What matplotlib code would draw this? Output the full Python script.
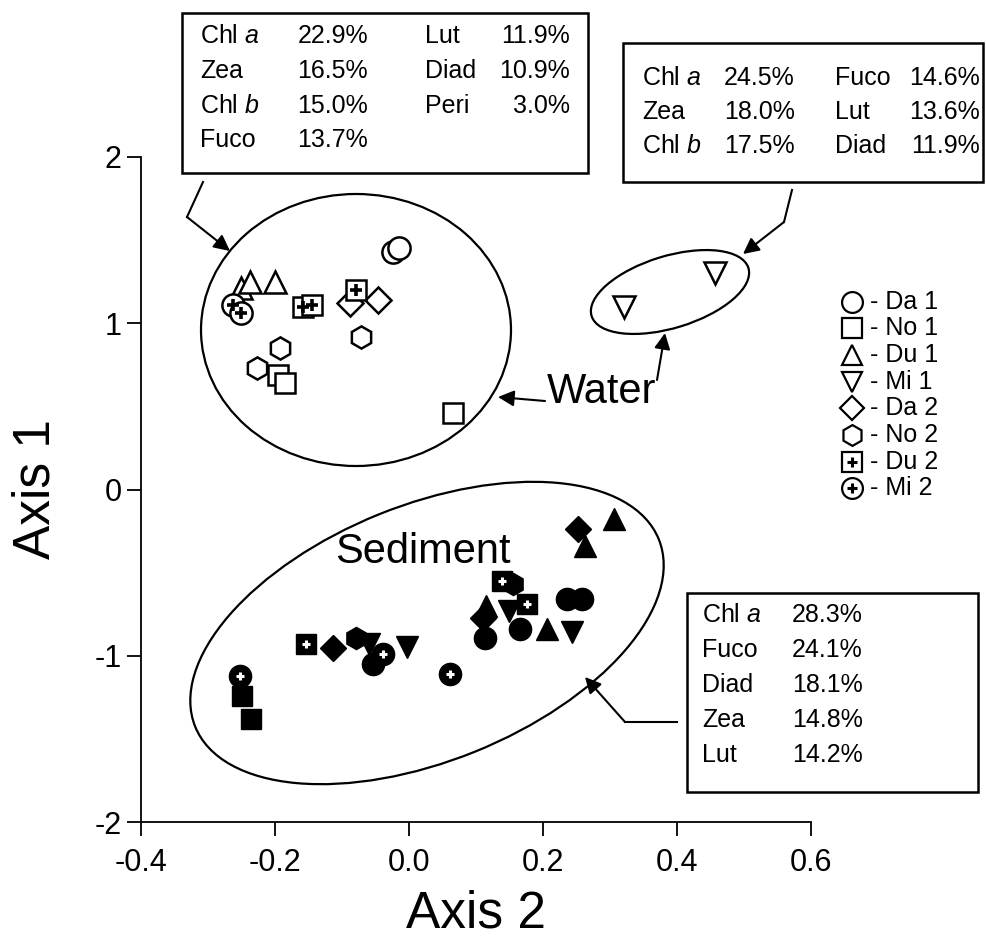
import numpy as np
import matplotlib
matplotlib.use("Agg")
from matplotlib import pyplot as plt
from matplotlib.patches import Ellipse, Rectangle, FancyArrowPatch
from matplotlib.lines import Line2D

plt.rcParams['font.family'] = ['Liberation Sans', 'DejaVu Sans']
plt.rcParams['mathtext.fontset'] = 'custom'
plt.rcParams['mathtext.rm'] = 'Liberation Sans'
plt.rcParams['mathtext.it'] = 'Liberation Sans:italic'

W, H = 987, 943

# groups (legend order)
groups = ['Da 1', 'No 1', 'Du 1', 'Mi 1', 'Da 2', 'No 2', 'Du 2', 'Mi 2']
markers = ['o', 's', '^', 'v', 'D', 'h', 's', 'o']
msizes = [16, 15, 16, 16, 13, 16, 15, 16]
with_plus = [False, False, False, False, False, False, True, True]

# water samples (open symbols)
water_x = [[-0.024, -0.015],
           [-0.195, -0.185, 0.066],
           [-0.250, -0.238, -0.200],
           [0.321, 0.457],
           [-0.088, -0.046],
           [-0.193, -0.227, -0.072],
           [-0.158, -0.145, -0.079],
           [-0.262, -0.250]]
water_y = [[1.43, 1.45],
           [0.69, 0.64, 0.46],
           [1.21, 1.25, 1.25],
           [1.10, 1.30],
           [1.12, 1.14],
           [0.85, 0.73, 0.92],
           [1.10, 1.11, 1.20],
           [1.11, 1.06]]

# sediment samples (filled symbols)
sed_x = [[-0.054, 0.113, 0.166, 0.236, 0.258],
         [-0.249, -0.236],
         [0.206, 0.115, 0.263, 0.306],
         [-0.060, -0.003, 0.243, 0.150],
         [-0.113, 0.110, 0.252],
         [-0.079, 0.155],
         [-0.154, 0.139, 0.176],
         [-0.252, 0.061, -0.039]]
sed_y = [[-1.05, -0.895, -0.84, -0.66, -0.66],
         [-1.24, -1.38],
         [-0.84, -0.70, -0.34, -0.175],
         [-0.93, -0.95, -0.86, -0.73],
         [-0.955, -0.775, -0.235],
         [-0.895, -0.57],
         [-0.93, -0.55, -0.69],
         [-1.12, -1.11, -0.99]]

xticks = [-0.4, -0.2, 0.0, 0.2, 0.4, 0.6]
xticklabels = ['-0.4', '-0.2', '0.0', '0.2', '0.4', '0.6']
yticks = [-2, -1, 0, 1, 2]
yticklabels = ['-2', '-1', '0', '1', '2']

# pigment tables
box1_names = ['Chl $a$', 'Zea', 'Chl $b$', 'Fuco', 'Lut', 'Diad', 'Peri']
box1_vals = ['22.9%', '16.5%', '15.0%', '13.7%', '11.9%', '10.9%', '3.0%']
box2_names = ['Chl $a$', 'Zea', 'Chl $b$', 'Fuco', 'Lut', 'Diad']
box2_vals = ['24.5%', '18.0%', '17.5%', '14.6%', '13.6%', '11.9%']
box3_names = ['Chl $a$', 'Fuco', 'Diad', 'Zea', 'Lut']
box3_vals = ['28.3%', '24.1%', '18.1%', '14.8%', '14.2%']


def fx(x):
    return x / W


def fy(y):
    return 1 - y / H


fig = plt.figure(figsize=(W / 100, H / 100), dpi=100)
ax = fig.add_axes([141 / W, (H - 822) / H, 670 / W, 665 / H])
ax.set_xlim(-0.4, 0.6)
ax.set_ylim(-2, 2)
for s in ['top', 'right']:
    ax.spines[s].set_visible(False)
for s in ['left', 'bottom']:
    ax.spines[s].set_linewidth(1.3)
ax.set_xticks(xticks)
ax.set_xticklabels(xticklabels)
ax.set_yticks(yticks)
ax.set_yticklabels(yticklabels)
ax.tick_params(direction='out', length=10, width=1.3, labelsize=22)
ax.tick_params(axis='x', pad=9)
ax.tick_params(axis='y', pad=4)
ax.set_xlabel('Axis 2', fontsize=37, labelpad=8)
ax.set_ylabel('Axis 1', fontsize=37, labelpad=24)

for i in range(len(groups)):
    ax.plot(water_x[i], water_y[i], ls='none', marker=markers[i], ms=msizes[i],
            mfc='white', mec='black', mew=1.8, zorder=3)
    ax.plot(sed_x[i], sed_y[i], ls='none', marker=markers[i], ms=msizes[i],
            mfc='black', mec='black', mew=1.0, zorder=3)
    if with_plus[i]:
        ax.plot(water_x[i], water_y[i], ls='none', marker='+', ms=8,
                mec='black', mew=2.6, zorder=4)
        ax.plot(sed_x[i], sed_y[i], ls='none', marker='+', ms=6,
                mec='white', mew=2.2, zorder=4)

# group ellipses (pixel geometry)
inch = fig.dpi_scale_trans
for cx, cy, a, b, ang in [(356, 330, 155, 136, 0), (670, 292, 82, 36, 17),
                          (427, 633, 250, 128, 22)]:
    fig.add_artist(Ellipse((cx / 100, (H - cy) / 100), 2 * a / 100, 2 * b / 100,
                           angle=ang, transform=inch, fill=False, lw=1.6,
                           ec='black'))

fig.text(fx(602), fy(403), 'Water', fontsize=30, ha='center', va='baseline')
fig.text(fx(423), fy(563), 'Sediment', fontsize=30, ha='center', va='baseline')


def arrow(p0, p1):
    fig.add_artist(FancyArrowPatch((fx(p0[0]), fy(p0[1])), (fx(p1[0]), fy(p1[1])),
                                   transform=fig.transFigure, arrowstyle='-|>',
                                   mutation_scale=24, lw=1.5, color='black',
                                   shrinkA=0, shrinkB=0))


def line(p0, p1):
    fig.add_artist(Line2D([fx(p0[0]), fx(p1[0])], [fy(p0[1]), fy(p1[1])],
                          transform=fig.transFigure, lw=1.5, color='black'))


line((203, 182), (187, 217))
arrow((187, 217), (230, 251))
line((792, 190), (784, 222))
arrow((784, 222), (743, 254))
arrow((545, 401), (498, 397))
arrow((657, 380), (665, 333))
line((677, 722), (625, 722))
arrow((625, 722), (585, 677))


def box(x0, y0, x1, y1):
    fig.add_artist(Rectangle((fx(x0), fy(y1)), fx(x1) - fx(x0), fy(y0) - fy(y1),
                             transform=fig.transFigure, fill=True, fc='white',
                             ec='black', lw=1.8, zorder=5))


def table(names, vals, name_x, val_x, rows, val_ha='right'):
    for k in range(len(names)):
        fig.text(fx(name_x), fy(rows[k]), names[k], fontsize=18, ha='left',
                 va='baseline', zorder=6)
        fig.text(fx(val_x), fy(rows[k]), vals[k], fontsize=18, ha=val_ha,
                 va='baseline', zorder=6)


box(182, 13, 588, 173)
rows1 = [43, 78, 113, 147]
table(box1_names[:4], box1_vals[:4], 200, 368, rows1)
table(box1_names[4:], box1_vals[4:], 425, 570, rows1)

box(623, 43, 983, 182)
rows2 = [85, 119, 153]
table(box2_names[:3], box2_vals[:3], 642, 795, rows2)
table(box2_names[3:], box2_vals[3:], 835, 980, rows2)

box(687, 593, 978, 792)
rows3 = [622, 657, 692, 727, 762]
table(box3_names, box3_vals, 702, 792, rows3, val_ha='left')

# legend
leg_rows = [302, 328, 355, 382, 408, 435, 462, 488]
for i in range(len(groups)):
    ax.plot([fx(852)], [fy(leg_rows[i])], transform=fig.transFigure,
            clip_on=False, ls='none', marker=markers[i], ms=msizes[i] - 1,
            mfc='white', mec='black', mew=1.6)
    if with_plus[i]:
        ax.plot([fx(852)], [fy(leg_rows[i])], transform=fig.transFigure,
                clip_on=False, ls='none', marker='+', ms=7, mec='black', mew=2.2)
    fig.text(fx(870), fy(leg_rows[i]), '- ' + groups[i], fontsize=18,
             ha='left', va='center')

fig.savefig('out.png', dpi=100)
